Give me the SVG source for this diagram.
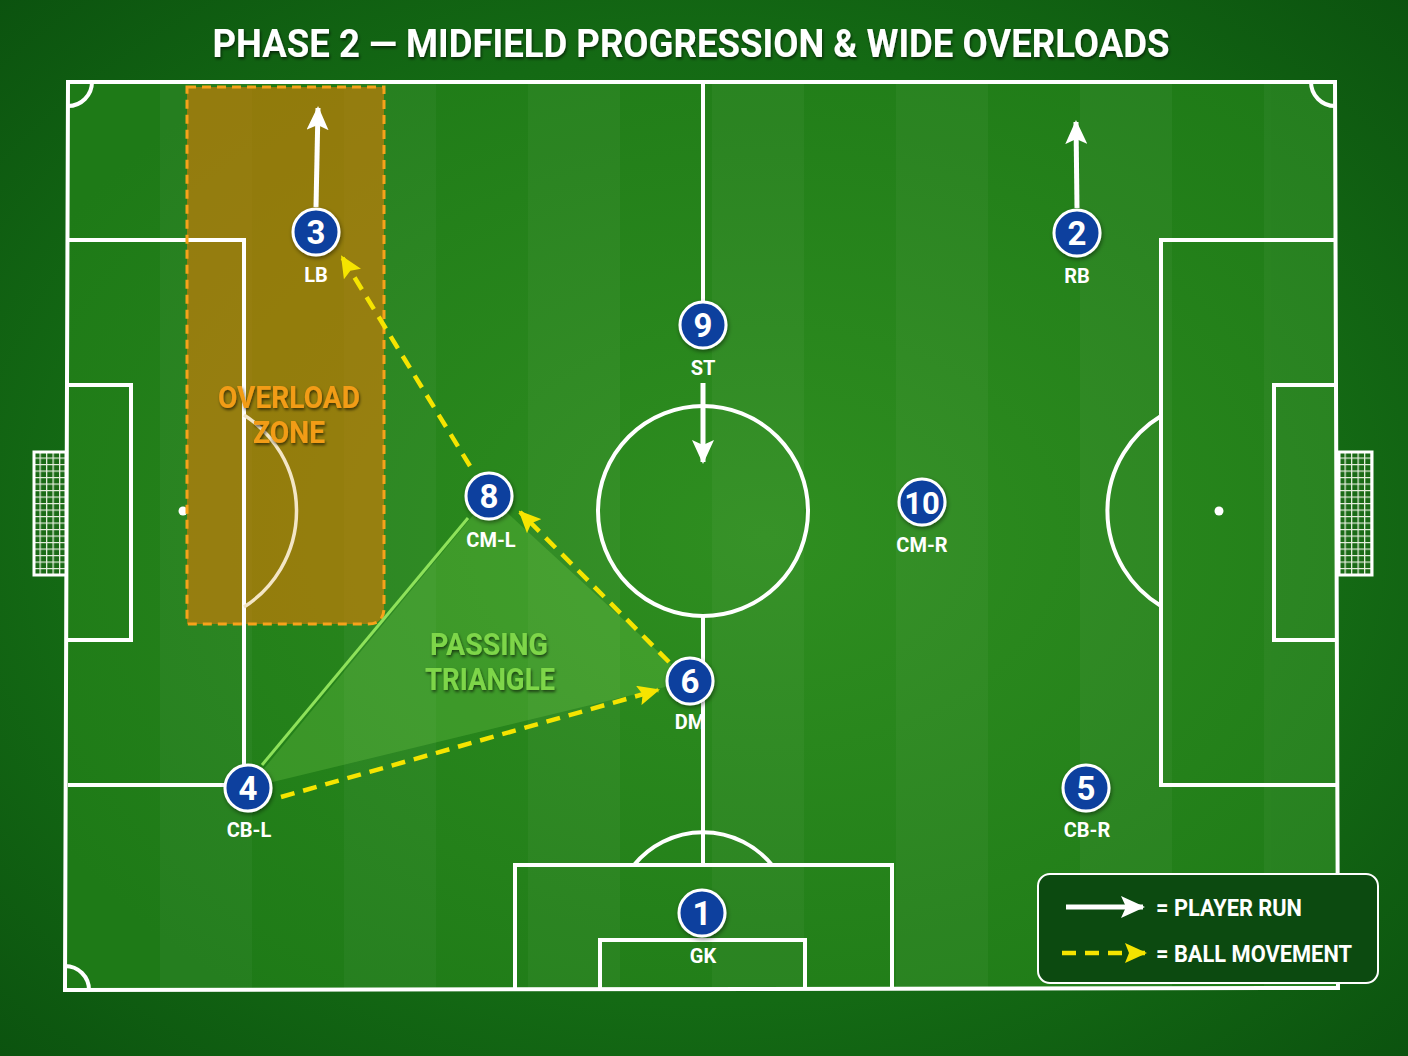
<svg xmlns="http://www.w3.org/2000/svg" width="1408" height="1056" viewBox="0 0 1408 1056">
<defs>
<radialGradient id="bg" cx="50%" cy="50%" r="75%">
<stop offset="0" stop-color="#237d1a"/>
<stop offset="0.6" stop-color="#146a14"/>
<stop offset="1" stop-color="#0a4f0e"/>
</radialGradient>
<radialGradient id="pitch" cx="55%" cy="50%" r="65%">
<stop offset="0" stop-color="#2f8e20"/>
<stop offset="1" stop-color="#1e7a17"/>
</radialGradient>
<pattern id="net" x="33" y="451" width="6.5" height="6.5" patternUnits="userSpaceOnUse">
<rect width="6.5" height="6.5" fill="#1a6a16"/>
<path d="M0 0.6 H6.5 M0.6 0 V6.5" stroke="#e8f0e0" stroke-width="1.3"/>
</pattern>
<pattern id="net2" x="1338" y="451" width="6.5" height="6.5" patternUnits="userSpaceOnUse">
<rect width="6.5" height="6.5" fill="#1a6a16"/>
<path d="M0 0.6 H6.5 M0.6 0 V6.5" stroke="#e8f0e0" stroke-width="1.3"/>
</pattern>
<marker id="wh" viewBox="0 0 24 22" refX="22" refY="11" markerWidth="24" markerHeight="22" markerUnits="userSpaceOnUse" orient="auto">
<path d="M0 0 L24 11 L0 22 L5 11 Z" fill="#ffffff"/>
</marker>
<marker id="yh" viewBox="0 0 22 20" refX="20" refY="10" markerWidth="22" markerHeight="20" markerUnits="userSpaceOnUse" orient="auto">
<path d="M0 0 L22 10 L0 20 L4 10 Z" fill="#f5e400"/>
</marker>
<filter id="sh" x="-20%" y="-20%" width="140%" height="160%">
<feDropShadow dx="1" dy="2" stdDeviation="2" flood-color="#000" flood-opacity="0.45"/>
</filter>
<filter id="tsh" x="-5%" y="-30%" width="110%" height="160%">
<feDropShadow dx="1" dy="2" stdDeviation="1.5" flood-color="#000" flood-opacity="0.6"/>
</filter>
<style>
.ln{fill:none;stroke:#ffffff;stroke-width:4;stroke-linejoin:miter}
.node circle{fill:#0b3f9e;stroke:#ffffff;stroke-width:3}
.num{font-family:Roboto,"Liberation Sans",sans-serif;font-weight:bold;font-size:33px;fill:#fff;text-anchor:middle}
.lab{font-family:Roboto,"Liberation Sans",sans-serif;font-weight:bold;font-size:20px;fill:#fff;text-anchor:middle}
.run{fill:none;stroke:#ffffff;stroke-width:5}
.ball{fill:none;stroke:#f5e400;stroke-width:4.5;stroke-dasharray:14 9}
.big{font-family:Roboto,"Liberation Sans",sans-serif;font-weight:bold;font-size:31px;text-anchor:middle}
.leg{font-family:Roboto,"Liberation Sans",sans-serif;font-weight:bold;font-size:23px;fill:#fff}
</style>
</defs>
<rect width="1408" height="1056" fill="url(#bg)"/>
<!-- pitch -->
<g id="pitch">
<polygon points="68,82 1335,82 1338,988 65,990" fill="url(#pitch)"/>
<g fill="#ffffff" opacity="0.035">
<rect x="160" y="84" width="92" height="904"/>
<rect x="344" y="84" width="92" height="904"/>
<rect x="528" y="84" width="92" height="904"/>
<rect x="712" y="84" width="92" height="904"/>
<rect x="896" y="84" width="92" height="904"/>
<rect x="1080" y="84" width="92" height="904"/>
<rect x="1264" y="84" width="72" height="904"/>
</g>
<path d="M187 87 H384 V608 Q384 624 368 624 H187 Z" fill="#d97a05" fill-opacity="0.62"/>
<polygon class="ln" points="68,82 1335,82 1338,988 65,990"/>
<path class="ln" d="M703 82 V302 M703 616 V865"/>
<circle class="ln" cx="703" cy="511" r="105"/>
<path class="ln" d="M68 240 H244 V785 H68 M68 385 H131 V640 H68"/>
<path d="M244 415 A114 114 0 0 1 244 607" fill="none" stroke="#f3e6c6" stroke-width="3.5"/>
<path class="ln" d="M1335 240 H1161 V785 H1336 M1335 385 H1274 V640 H1335 M1161 416 A111 111 0 0 0 1161 606"/>
<path class="ln" d="M515 990 V865 H892 V989 M600 990 V940 H805 V989 M634 865 A89 89 0 0 1 772 865"/>
<path class="ln" d="M92 82 A24 24 0 0 1 68 106 M1311 82 A24 24 0 0 0 1335 106 M65 966 A24 24 0 0 1 89 990"/>
<circle cx="183" cy="511" r="4.5" fill="#fff"/>
<circle cx="1219" cy="511" r="4.5" fill="#fff"/>
<rect x="34" y="452" width="32" height="123" fill="url(#net)" stroke="#ffffff" stroke-width="3"/>
<rect x="1339" y="452" width="33" height="123" fill="url(#net2)" stroke="#ffffff" stroke-width="3"/>
</g>
<!-- overload zone -->
<g id="overload-zone">
<path d="M187 87 H384 V608 Q384 624 368 624 H187 Z" fill="none" stroke="#f7a21a" stroke-width="3" stroke-dasharray="9 6"/>
<text class="big" x="289" y="408" fill="#f29c18" filter="url(#tsh)" textLength="142" lengthAdjust="spacingAndGlyphs">OVERLOAD</text>
<text class="big" x="289" y="443" fill="#f29c18" filter="url(#tsh)" textLength="72" lengthAdjust="spacingAndGlyphs">ZONE</text>
</g>
<!-- passing triangle -->
<g id="passing-triangle">
<polygon points="248,788 489,496 690,681" fill="#8ee25a" fill-opacity="0.22"/>
<line x1="262" y1="765" x2="468" y2="518" stroke="#8ee25a" stroke-width="3"/>
<text class="big" x="489" y="655" fill="#7ed64a" filter="url(#tsh)" textLength="118" lengthAdjust="spacingAndGlyphs">PASSING</text>
<text class="big" x="490" y="690" fill="#7ed64a" filter="url(#tsh)" textLength="130" lengthAdjust="spacingAndGlyphs">TRIANGLE</text>
</g>
<!-- connectors -->
<g id="connectors">
<path class="run" d="M316 207 L318 108" marker-end="url(#wh)"/>
<path class="run" d="M1077 208 L1076 122" marker-end="url(#wh)"/>
<path class="run" d="M703 383 L703 462" marker-end="url(#wh)"/>
<path class="ball" d="M470 466 L342 257" marker-end="url(#yh)"/>
<path class="ball" d="M669 662 L520 512" marker-end="url(#yh)"/>
<path class="ball" d="M281 797 L658 690" marker-end="url(#yh)"/>
</g>
<!-- nodes -->
<g id="node-3" class="node"><circle cx="316" cy="232" r="23" filter="url(#sh)"/><text class="num" x="316" y="244">3</text><text class="lab" x="316" y="282">LB</text></g>
<g id="node-2" class="node"><circle cx="1077" cy="233" r="23" filter="url(#sh)"/><text class="num" x="1077" y="245">2</text><text class="lab" x="1077" y="283">RB</text></g>
<g id="node-9" class="node"><circle cx="703" cy="325" r="23" filter="url(#sh)"/><text class="num" x="703" y="337">9</text><text class="lab" x="703" y="375">ST</text></g>
<g id="node-8" class="node"><circle cx="489" cy="496" r="23" filter="url(#sh)"/><text class="num" x="489" y="508">8</text><text class="lab" x="491" y="547">CM-L</text></g>
<g id="node-10" class="node"><circle cx="922" cy="502" r="23" filter="url(#sh)"/><text class="num" x="922" y="514" style="font-size:31px">10</text><text class="lab" x="922" y="552">CM-R</text></g>
<g id="node-6" class="node"><circle cx="690" cy="681" r="23" filter="url(#sh)"/><text class="num" x="690" y="693">6</text><text class="lab" x="690" y="729">DM</text></g>
<g id="node-4" class="node"><circle cx="248" cy="788" r="23" filter="url(#sh)"/><text class="num" x="248" y="800">4</text><text class="lab" x="249" y="837">CB-L</text></g>
<g id="node-5" class="node"><circle cx="1086" cy="788" r="23" filter="url(#sh)"/><text class="num" x="1086" y="800">5</text><text class="lab" x="1087" y="837">CB-R</text></g>
<g id="node-1" class="node"><circle cx="702" cy="913" r="23" filter="url(#sh)"/><text class="num" x="702" y="925">1</text><text class="lab" x="703" y="963">GK</text></g>
<!-- title -->
<text x="691" y="57" font-family="Roboto,'Liberation Sans',sans-serif" font-weight="bold" font-size="38" fill="#ffffff" text-anchor="middle" textLength="957" lengthAdjust="spacingAndGlyphs" filter="url(#tsh)">PHASE 2 — MIDFIELD PROGRESSION &amp; WIDE OVERLOADS</text>
<!-- legend -->
<g id="legend">
<rect x="1038" y="874" width="340" height="109" rx="12" fill="#0c4a10" stroke="#ffffff" stroke-width="2"/>
<path class="run" d="M1066 907 L1143 907" marker-end="url(#wh)"/>
<text class="leg" x="1156" y="916" textLength="146" lengthAdjust="spacingAndGlyphs">= PLAYER RUN</text>
<path class="ball" d="M1062 953 L1145 953" marker-end="url(#yh)"/>
<text class="leg" x="1156" y="962" textLength="196" lengthAdjust="spacingAndGlyphs">= BALL MOVEMENT</text>
</g>
</svg>
